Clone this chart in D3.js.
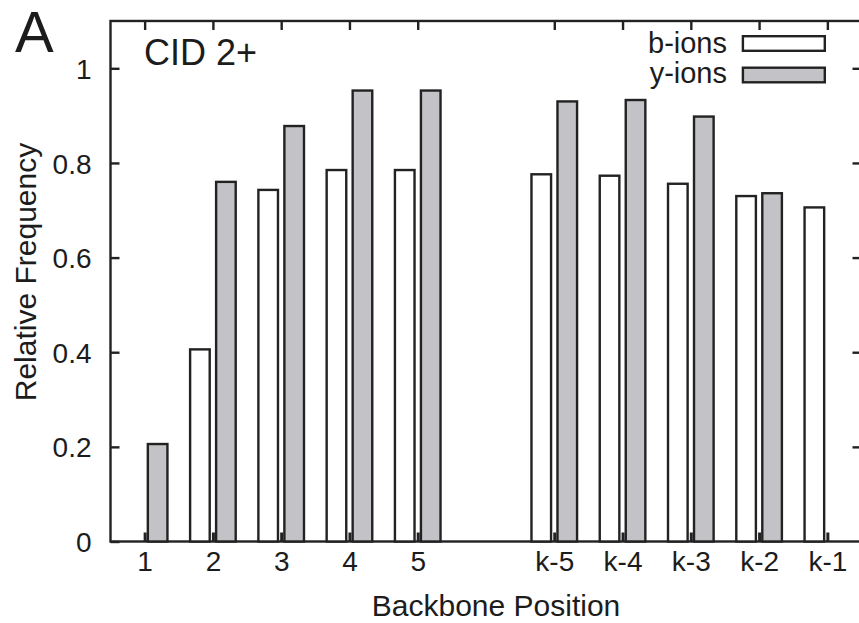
<!DOCTYPE html>
<html>
<head>
<meta charset="utf-8">
<script src="https://cdn.jsdelivr.net/npm/d3@7"></script>
<style>
  body { margin: 0; background: #fff; }
  text { font-family: "Liberation Sans", Arial, sans-serif; fill: #1c1c1c; }
</style>
</head>
<body>
<svg width="859" height="623"></svg>
<script>
// categories along the backbone (gap between 5 and k-5)
var LABELS = ["1", "2", "3", "4", "5", "k-5", "k-4", "k-3", "k-2", "k-1"];
var POSITIONS = [1, 2, 3, 4, 5, 7, 8, 9, 10, 11];
var B_IONS = [0, 0.406, 0.743, 0.785, 0.785, 0.776, 0.773, 0.756, 0.730, 0.706];
var Y_IONS = [0.206, 0.760, 0.878, 0.953, 0.953, 0.930, 0.933, 0.898, 0.736, 0];
var Y_TICKS = [0, 0.2, 0.4, 0.6, 0.8, 1];

var svg = d3.select("svg"),
  left = 110.5, right = 861.5, top = 20, bottom = 541.5;

var xScale = d3.scaleLinear().domain([0.5, 11.5]).range([left, right]),
  yScale = d3.scaleLinear().domain([0, 1.1]).range([bottom, bottom - 1.1 * 473.2]);

var ink = "#222";
var grey = "#c3c3c7";
var sw = 2.4;

// frame
svg.append("rect")
  .attr("x", left).attr("y", yScale(1.1))
  .attr("width", right - left).attr("height", bottom - yScale(1.1))
  .attr("fill", "none").attr("stroke", ink).attr("stroke-width", sw);

// bars
var data = LABELS.map(function (l, i) {
  return { label: l, pos: POSITIONS[i], b: B_IONS[i], y: Y_IONS[i] };
});

svg.selectAll("rect.b")
  .data(data.filter(function (d) { return d.b > 0; }))
  .enter().append("rect")
  .attr("class", "b")
  .attr("x", function (d) { return xScale(d.pos) - 22.8; })
  .attr("width", 19.6)
  .attr("y", function (d) { return yScale(d.b); })
  .attr("height", function (d) { return yScale(0) - yScale(d.b); })
  .attr("fill", "#fff").attr("stroke", ink).attr("stroke-width", sw);

svg.selectAll("rect.y")
  .data(data.filter(function (d) { return d.y > 0; }))
  .enter().append("rect")
  .attr("class", "y")
  .attr("x", function (d) { return xScale(d.pos) + 3.2; })
  .attr("width", 19.6)
  .attr("y", function (d) { return yScale(d.y); })
  .attr("height", function (d) { return yScale(0) - yScale(d.y); })
  .attr("fill", grey).attr("stroke", ink).attr("stroke-width", sw);

// axes, ticks inward on all sides
function styleAxis(g) {
  g.select(".domain").remove();
  g.selectAll(".tick line").attr("stroke", ink).attr("stroke-width", sw);
  g.selectAll(".tick text").style("font-size", "28px").attr("fill", "#1c1c1c");
}

svg.append("g")
  .attr("transform", "translate(" + left + ",0)")
  .call(d3.axisLeft(yScale).tickValues(Y_TICKS).tickFormat(d3.format("~g"))
    .tickSizeInner(-9).tickPadding(19))
  .call(styleAxis)
  .selectAll(".tick text").attr("dy", "0.36em");

svg.append("g")
  .attr("transform", "translate(" + right + ",0)")
  .call(d3.axisRight(yScale).tickValues(Y_TICKS.slice(1)).tickSizeInner(-9).tickFormat(""))
  .call(styleAxis);

svg.append("g")
  .attr("transform", "translate(0," + bottom + ")")
  .call(d3.axisBottom(xScale).tickValues(POSITIONS)
    .tickFormat(function (p) { return LABELS[POSITIONS.indexOf(p)]; })
    .tickSizeInner(-9).tickPadding(10))
  .call(styleAxis)
  .selectAll(".tick line").attr("stroke-width", 3);

svg.append("g")
  .attr("transform", "translate(0," + yScale(1.1) + ")")
  .call(d3.axisTop(xScale).tickValues(POSITIONS).tickSizeInner(-9).tickFormat(""))
  .call(styleAxis);

// axis titles
svg.append("text")
  .attr("x", 496).attr("y", 616)
  .attr("text-anchor", "middle")
  .style("font-size", "30px")
  .text("Backbone Position");

svg.append("text")
  .attr("text-anchor", "middle")
  .attr("transform", "translate(36," + 272 + ")rotate(-90)")
  .style("font-size", "30px")
  .text("Relative Frequency");

// panel letter and condition
svg.append("text")
  .attr("x", 15).attr("y", 52)
  .style("font-size", "58px")
  .text("A");

svg.append("text")
  .attr("x", 144).attr("y", 65)
  .style("font-size", "36px")
  .text("CID 2+");

// legend
var legend = [
  { name: "b-ions", fill: "#fff", base: 52.5, top: 36.2 },
  { name: "y-ions", fill: grey, base: 83, top: 67.7 }
];
legend.forEach(function (d) {
  svg.append("text")
    .attr("x", 727).attr("y", d.base)
    .attr("text-anchor", "end")
    .style("font-size", "29px")
    .text(d.name);
  svg.append("rect")
    .attr("x", 742.9).attr("y", d.top)
    .attr("width", 81.9).attr("height", 14.6)
    .attr("fill", d.fill).attr("stroke", ink).attr("stroke-width", sw);
});
</script>
</body>
</html>
